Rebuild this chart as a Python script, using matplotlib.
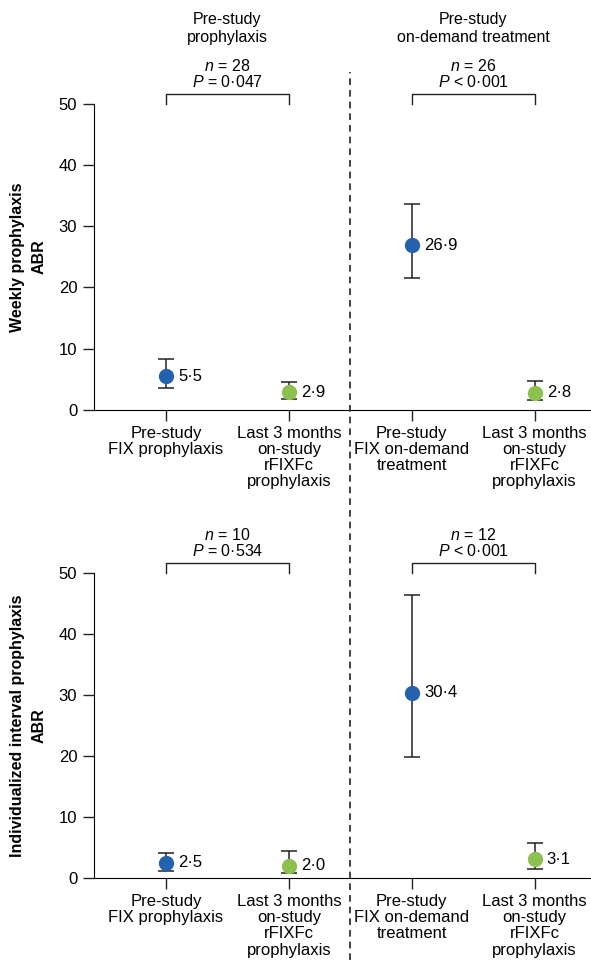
import matplotlib.pyplot as plt

plt.rcParams['font.family'] = ['Liberation Sans', 'DejaVu Sans']
plt.rcParams['mathtext.fontset'] = 'custom'
plt.rcParams['mathtext.it'] = 'Liberation Sans:italic'
plt.rcParams['mathtext.rm'] = 'Liberation Sans'

# data
categories = ['Pre-study\nFIX prophylaxis',
              'Last 3 months\non-study\nrFIXFc\nprophylaxis',
              'Pre-study\nFIX on-demand\ntreatment',
              'Last 3 months\non-study\nrFIXFc\nprophylaxis']
groups = ['Pre-study\nprophylaxis', 'Pre-study\non-demand treatment']

weekly_abr = [5.5, 2.9, 26.9, 2.8]
weekly_low = [3.6, 1.8, 21.6, 1.6]
weekly_high = [8.3, 4.6, 33.7, 4.7]
weekly_n = [28, 26]
weekly_p = ['= 0·047', '< 0·001']

interval_abr = [2.5, 2.0, 30.4, 3.1]
interval_low = [1.1, 0.8, 19.8, 1.5]
interval_high = [4.1, 4.4, 46.4, 5.7]
interval_n = [10, 12]
interval_p = ['= 0·534', '< 0·001']

colors = ['#2462b0', '#8cc14f', '#2462b0', '#8cc14f']
x = [1, 2, 3, 4]


def panel(ax, vals, low, high, ns, ps, ylabel):
    for i in range(4):
        ax.errorbar(x[i], vals[i], yerr=[[vals[i] - low[i]], [high[i] - vals[i]]],
                    fmt='o', color=colors[i], ecolor='#222222', elinewidth=1.1,
                    capsize=6, capthick=1.1, markersize=10, zorder=3)
        ax.text(x[i] + 0.1, vals[i], f'{vals[i]:.1f}'.replace('.', '·'),
                va='center', ha='left', fontsize=12)
    for g in range(2):
        a, b = x[2 * g], x[2 * g + 1]
        ax.plot([a, a, b, b], [50, 51.6, 51.6, 50], color='#222222', lw=1,
                clip_on=False)
        ax.text((a + b) / 2, 56.2, f'$n$ = {ns[g]}', ha='center', va='center',
                fontsize=11.5)
        ax.text((a + b) / 2, 53.6, f'$P$ {ps[g]}', ha='center', va='center',
                fontsize=11.5)
    ax.set_xlim(0.413, 4.46)
    ax.set_ylim(0, 50)
    ax.set_yticks([0, 10, 20, 30, 40, 50])
    ax.set_xticks(x)
    ax.set_xticklabels(categories, fontsize=12, linespacing=1.1)
    ax.tick_params(axis='both', direction='out', length=8, width=1,
                   labelsize=12, color='#222222')
    ax.tick_params(axis='y', pad=4)
    ax.spines['top'].set_visible(False)
    ax.spines['right'].set_visible(False)
    ax.set_ylabel(ylabel, fontweight='bold', fontsize=11.5, labelpad=9,
                  linespacing=1.5)


fig = plt.figure(figsize=(5.91, 9.6), dpi=100)
ax1 = fig.add_axes([0.159, 0.573, 0.841, 0.319])
ax2 = fig.add_axes([0.159, 0.0854, 0.841, 0.3176])

panel(ax1, weekly_abr, weekly_low, weekly_high, weekly_n, weekly_p,
      'Weekly prophylaxis\nABR')
panel(ax2, interval_abr, interval_low, interval_high, interval_n, interval_p,
      'Individualized interval prophylaxis\nABR')

# group headers
for g in range(2):
    ax1.text((x[2 * g] + x[2 * g + 1]) / 2, 62.3, groups[g], ha='center',
             va='center', fontsize=11.5, linespacing=1.3)

# dashed separator over both panels
overlay = fig.add_axes([0.159, 0.0, 0.841, 0.925])
overlay.set_xlim(ax1.get_xlim())
overlay.set_ylim(0, 1)
overlay.axvline(2.5, color='#222222', lw=1.2, ls=(0, (4, 3)))
overlay.axis('off')

fig.savefig('out.png', dpi=100)
